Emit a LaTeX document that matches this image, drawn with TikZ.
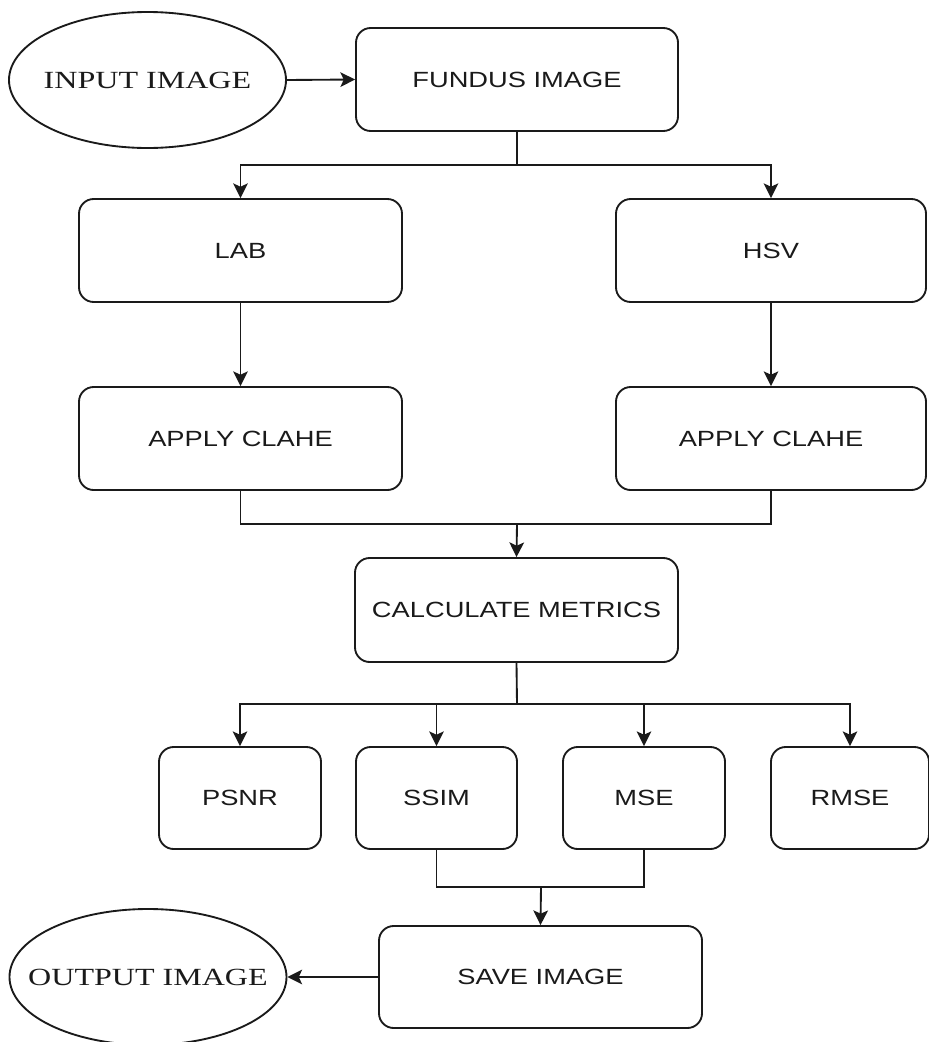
\documentclass[tikz,border=0pt]{standalone}
\usepackage{fontspec}
\usepackage{graphicx}
\setmainfont{Liberation Serif}
\setsansfont{Liberation Sans}
\usetikzlibrary{arrows.meta,shapes.geometric}
\newcommand{\hst}[1]{\scalebox{1.24}[1]{#1}}
\newcommand{\hsr}[1]{\makebox[0pt]{\scalebox{1.3}[1]{#1}}}
\definecolor{ink}{HTML}{1A1A1A}
\begin{document}
\begin{tikzpicture}[x=0.75pt,y=-0.75pt,
  lne/.style={draw=ink,line width=1.4pt},
  arr/.style={lne,-{Stealth[length=11pt,width=11pt,inset=2.5pt]}},
  box/.style={draw=ink,line width=1.4pt,rounded corners=11pt,inner sep=0pt,text=ink,
     font=\sffamily\fontsize{16.5pt}{18pt}\selectfont},
  oval/.style={draw=ink,line width=1.4pt,ellipse,inner sep=0pt,text=ink,
     minimum width=207.75pt,minimum height=102pt,
     font=\rmfamily\fontsize{18.5pt}{20pt}\selectfont}]
\useasboundingbox (0,0) rectangle (928,1042);
\node[oval] (in) at (147.5,80) {\hsr{INPUT IMAGE}};
\node[box,minimum width=241.5pt,minimum height=77.25pt] (fundus) at (517,79.5) {\hst{FUNDUS IMAGE}};
\node[box,minimum width=242.25pt,minimum height=77.25pt] (lab) at (240.5,250.5) {\hst{LAB}};
\node[box,minimum width=232.5pt,minimum height=77.25pt] (hsv) at (771,250.5) {\hst{HSV}};
\node[box,minimum width=242.25pt,minimum height=77.25pt] (claheL) at (240.5,438.5) {\hst{APPLY CLAHE}};
\node[box,minimum width=232.5pt,minimum height=77.25pt] (claheR) at (771,438.5) {\hst{APPLY CLAHE}};
\node[box,minimum width=242.25pt,minimum height=78pt] (calc) at (516.5,610) {\hst{CALCULATE METRICS}};
\node[box,minimum width=121.5pt,minimum height=76.5pt] (psnr) at (240,798) {\hst{PSNR}};
\node[box,minimum width=120.75pt,minimum height=76.5pt] (ssim) at (436.5,798) {\hst{SSIM}};
\node[box,minimum width=121.5pt,minimum height=76.5pt] (mse) at (644,798) {\hst{MSE}};
\node[box,minimum width=118.5pt,minimum height=76.5pt] (rmse) at (850,798) {\hst{RMSE}};
\node[box,minimum width=242.25pt,minimum height=76.5pt] (save) at (540.5,977) {\hst{SAVE IMAGE}};
\node[oval] (out) at (148,977) {\hsr{OUTPUT IMAGE}};
\coordinate (j1) at (517,165);
\coordinate (j2) at (517,524);
\coordinate (j3) at (517,704);
\coordinate (j4) at (541,887);
\draw[arr] (in.east) -- (fundus.west);
\draw[lne] (fundus.south) -- (j1);
\draw[arr] (j1) -| (lab.north);
\draw[arr] (j1) -| (hsv.north);
\draw[arr] (lab.south) -- (claheL.north);
\draw[arr] (hsv.south) -- (claheR.north);
\draw[lne] (claheL.south) -- (claheL.south |- j2) -- (claheR.south |- j2) -- (claheR.south);
\draw[arr] (j2) -- (calc.north);
\draw[lne] (calc.south) -- (j3);
\draw[arr] (j3) -| (psnr.north);
\draw[arr] (j3) -| (ssim.north);
\draw[arr] (j3) -| (mse.north);
\draw[arr] (j3) -| (rmse.north);
\draw[lne] (ssim.south) -- (ssim.south |- j4) -- (mse.south |- j4) -- (mse.south);
\draw[arr] (j4) -- (save.north);
\draw[arr] (save.west) -- (out.east);
\end{tikzpicture}
\end{document}
